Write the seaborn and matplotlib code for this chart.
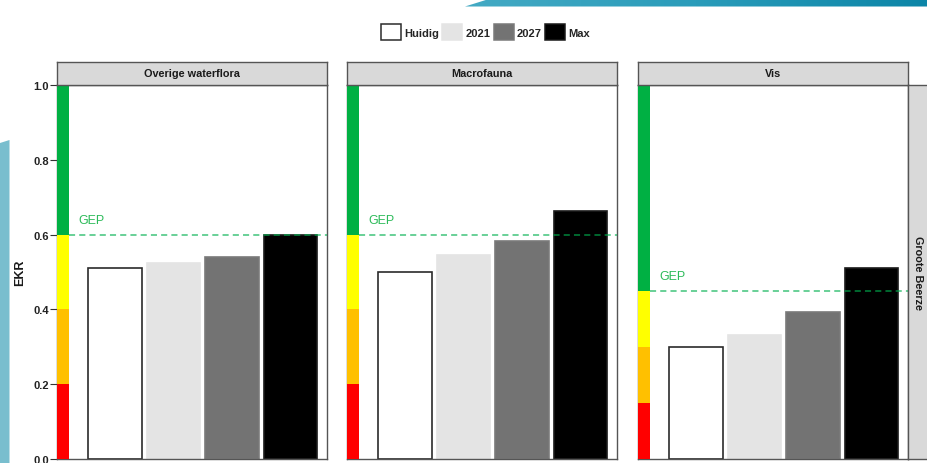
import numpy as np
import pandas as pd
import matplotlib
matplotlib.use("Agg")
import matplotlib.pyplot as plt
from matplotlib.patches import Patch, Polygon
import seaborn as sns

# --- data -----------------------------------------------------------------
panels = ["Overige waterflora", "Macrofauna", "Vis"]
scenarios = ["Huidig", "2021", "2027", "Max"]
ekr_flora = [0.51, 0.525, 0.54, 0.60]
ekr_macro = [0.50, 0.545, 0.583, 0.663]
ekr_vis = [0.30, 0.332, 0.393, 0.51]
gep = [0.60, 0.60, 0.45]
# class boundaries (slecht / ontoereikend / matig / goed)
bounds_flora = [0.0, 0.2, 0.4, 0.6, 1.0]
bounds_macro = [0.0, 0.2, 0.4, 0.6, 1.0]
bounds_vis = [0.0, 0.15, 0.3, 0.45, 1.0]
water_body = "Groote Beerze"
y_ticks = [0.0, 0.2, 0.4, 0.6, 0.8, 1.0]

values = [ekr_flora, ekr_macro, ekr_vis]
bounds = [bounds_flora, bounds_macro, bounds_vis]

# --- styling --------------------------------------------------------------
fill = {"Huidig": "#ffffff", "2021": "#e4e4e4", "2027": "#737373", "Max": "#000000"}
edge = {"Huidig": "#2b2b2b", "2021": "#e4e4e4", "2027": "#7a7a7a", "Max": "#1a1a1a"}
band_colors = ["#ff0000", "#ffc000", "#ffff00", "#00b043"]

sns.set_style("white")
plt.rcParams["font.family"] = ["Liberation Sans", "DejaVu Sans"]

W, H = 928, 464
fig = plt.figure(figsize=(W / 100, H / 100), dpi=100)
fig.patch.set_facecolor("white")


def fx(px):
    return px / W


def fy(py):
    return 1 - py / H


# slide decoration: teal band on the left and gradient bar top right
fig.patches.append(Polygon([[fx(0), fy(144)], [fx(9.5), fy(141)], [fx(9.5), fy(470)], [fx(0), fy(470)]],
                           closed=True, transform=fig.transFigure, facecolor="#79bece",
                           edgecolor="none", zorder=0))
deco = fig.add_axes([fx(465), fy(7.5), fx(463), 7.5 / H])
deco.set_axis_off()
grad = np.linspace(0, 1, 256)[None, :]
cmap = matplotlib.colors.LinearSegmentedColormap.from_list("deco", ["#44aac4", "#2a9cba", "#0c85a7"])
im = deco.imshow(grad, aspect="auto", cmap=cmap, extent=[0, 463, 0, 7.5])
deco.set_xlim(0, 463)
deco.set_ylim(0, 7.5)
clip = Polygon([[0, 0], [24, 7.5], [463, 7.5], [463, 0]], closed=True, transform=deco.transData)
im.set_clip_path(clip)

panel_left = [57, 347, 638]
panel_w = 270
top, bottom = 86, 460
xlim = (-0.99, 3.625)
band_w = 0.205
edge_col = "#555555"

for i, (name, vals, bnd, g, x0) in enumerate(zip(panels, values, bounds, gep, panel_left)):
    ax = fig.add_axes([fx(x0), fy(bottom), fx(panel_w), (bottom - top) / H])
    df = pd.DataFrame({"scenario": scenarios, "ekr": vals})
    sns.barplot(data=df, x="scenario", y="ekr", hue="scenario", order=scenarios,
                hue_order=scenarios, palette=fill, width=0.92, saturation=1,
                legend=False, ax=ax, zorder=2)
    for bar, s in zip(ax.patches, scenarios):
        bar.set_edgecolor(edge[s])
        bar.set_linewidth(1.2)

    # quality class band along the left edge
    for lo, hi, c in zip(bnd[:-1], bnd[1:], band_colors):
        ax.bar(xlim[0], hi - lo, bottom=lo, width=band_w, align="edge",
               color=c, linewidth=0, zorder=3)

    # GEP target line and label
    frac = band_w / (xlim[1] - xlim[0])
    ax.axhline(g, xmin=frac, xmax=1, color="#00b04f", alpha=0.75, lw=1.1,
               dashes=(4.0, 2.7), zorder=4)
    ax.text(xlim[0] + 0.36, g + 0.022, "GEP", color="#2dbb5a", fontsize=9,
            ha="left", va="bottom", zorder=5)

    ax.set_xlim(*xlim)
    ax.set_ylim(0, 1)
    ax.set_xticks([])
    ax.set_xlabel("")
    for sp in ax.spines.values():
        sp.set_color(edge_col)
        sp.set_linewidth(1.0)
        sp.set_visible(True)
    if i == 0:
        ax.set_yticks(y_ticks)
        ax.set_yticklabels([f"{t:.1f}" for t in y_ticks], fontweight="bold")
        ax.tick_params(axis="y", left=True, length=5, width=0.8, color="#333333",
                       pad=0.8, labelsize=8, labelcolor="#222222")
        ax.set_ylabel("EKR", fontsize=9, fontweight="bold", color="#1a1a1a")
        ax.yaxis.set_label_coords((26 - x0) / panel_w, 0.5)
    else:
        ax.set_yticks(y_ticks)
        ax.set_yticklabels([])
        ax.tick_params(axis="y", left=False)
        ax.set_ylabel("")

    # facet strip on top
    st = fig.add_axes([fx(x0), fy(top), fx(panel_w), 23 / H])
    st.set_facecolor("#d9d9d9")
    st.set_xticks([])
    st.set_yticks([])
    for sp in st.spines.values():
        sp.set_color(edge_col)
        sp.set_linewidth(1.0)
    st.text(0.5, 0.5, name, ha="center", va="center", fontsize=7.8,
            fontweight="bold", color="#1a1a1a", transform=st.transAxes)

# row strip on the right
rs = fig.add_axes([fx(908), fy(bottom), fx(24), (bottom - top) / H])
rs.set_facecolor("#d9d9d9")
rs.set_xticks([])
rs.set_yticks([])
for sp in rs.spines.values():
    sp.set_color(edge_col)
    sp.set_linewidth(1.0)
rs.text(0.42, 0.5, water_body, ha="center", va="center", rotation=270, fontsize=7.8,
        fontweight="bold", color="#1a1a1a", transform=rs.transAxes)

# legend
handles = [Patch(facecolor=fill[s], edgecolor=edge[s], linewidth=1.1, label=s) for s in scenarios]
fig.legend(handles=handles, loc="center", bbox_to_anchor=(fx(485.5), fy(33)), ncol=4,
           frameon=False, prop={"weight": "bold", "size": 8},
           handlelength=1.8, handleheight=1.8, handletextpad=0.3, columnspacing=0.3,
           borderpad=0, borderaxespad=0)

fig.savefig("out.png", dpi=100, facecolor="white")
